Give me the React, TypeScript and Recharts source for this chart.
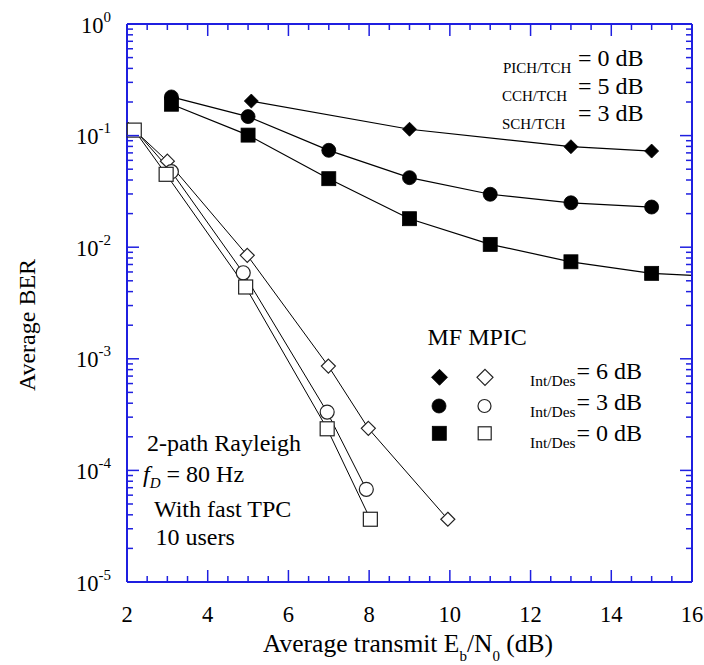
import React from 'react';
import { LineChart, Line, XAxis, YAxis } from 'recharts';

const FONT = '"Liberation Serif", "Times New Roman", Times, serif';
const BLUE = '#1f1fe0';

// ---- tick values ----
const xMajorTicks = [2, 4, 6, 8, 10, 12, 14, 16];
const xAllTicks = [2, 2.5, 3, 3.5, 4, 4.5, 5, 5.5, 6, 6.5, 7, 7.5, 8, 8.5, 9, 9.5, 10, 10.5, 11, 11.5, 12, 12.5, 13, 13.5, 14, 14.5, 15, 15.5, 16];
const yMajorTicks = [1e-5, 1e-4, 1e-3, 1e-2, 1e-1, 1];
const yMajorLabels = ['-5', '-4', '-3', '-2', '-1', '0'];
const yAllTicks = [
  1e-5, 2e-5, 3e-5, 4e-5, 5e-5, 6e-5, 7e-5, 8e-5, 9e-5,
  1e-4, 2e-4, 3e-4, 4e-4, 5e-4, 6e-4, 7e-4, 8e-4, 9e-4,
  1e-3, 2e-3, 3e-3, 4e-3, 5e-3, 6e-3, 7e-3, 8e-3, 9e-3,
  1e-2, 2e-2, 3e-2, 4e-2, 5e-2, 6e-2, 7e-2, 8e-2, 9e-2,
  1e-1, 2e-1, 3e-1, 4e-1, 5e-1, 6e-1, 7e-1, 8e-1, 9e-1,
  1,
];

// ---- series (Eb/N0 dB, BER) ----
const filledDiamond = [
  { x: 5.08, y: 0.204 }, { x: 9, y: 0.114 }, { x: 13, y: 0.0795 }, { x: 15, y: 0.0727 },
];
const filledCircle = [
  { x: 3.1, y: 0.222 }, { x: 5, y: 0.148 }, { x: 7, y: 0.0738 }, { x: 9, y: 0.042 },
  { x: 11, y: 0.0298 }, { x: 13, y: 0.025 }, { x: 15, y: 0.0229 },
];
const filledSquare = [
  { x: 3.1, y: 0.191 }, { x: 5, y: 0.101 }, { x: 7, y: 0.0411 }, { x: 9, y: 0.018 },
  { x: 11, y: 0.0106 }, { x: 13, y: 0.0074 }, { x: 15, y: 0.00583 }, { x: 16, y: 0.0056 },
];
const openDiamond = [
  { x: 2.18, y: 0.112 }, { x: 3.0, y: 0.059 }, { x: 4.98, y: 0.00846 }, { x: 6.99, y: 0.00086 },
  { x: 7.98, y: 0.000238 }, { x: 9.95, y: 0.0000365 },
];
const openCircle = [
  { x: 2.0, y: 0.135 }, { x: 3.1, y: 0.0475 }, { x: 4.88, y: 0.0059 }, { x: 6.96, y: 0.000333 },
  { x: 7.93, y: 0.0000677 },
];
const openSquare = [
  { x: 2.18, y: 0.112 }, { x: 2.97, y: 0.045 }, { x: 4.94, y: 0.0044 }, { x: 6.96, y: 0.000236 },
  { x: 8.03, y: 0.0000365 },
];

type Shape = 'diamond' | 'circle' | 'square';

const drawMarker = (shape: Shape, filled: boolean, cx: number, cy: number, s: number, key?: string) => {
  const fill = filled ? '#000' : '#fff';
  const stroke = filled ? '#000' : '#222';
  const sw = filled ? 0.8 : 1.2;
  if (shape === 'diamond') {
    const d = s * 0.5;
    return (
      <polygon key={key} points={`${cx},${cy - d} ${cx + d},${cy} ${cx},${cy + d} ${cx - d},${cy}`} fill={fill} stroke={stroke} strokeWidth={sw} />
    );
  }
  if (shape === 'circle') {
    return <circle key={key} cx={cx} cy={cy} r={s * 0.5} fill={fill} stroke={stroke} strokeWidth={sw} />;
  }
  return <rect key={key} x={cx - s / 2} y={cy - s / 2} width={s} height={s} fill={fill} stroke={stroke} strokeWidth={sw} />;
};

const makeDot = (shape: Shape, filled: boolean, size: number, hidden: number[]) => (props: any) => {
  const { cx, cy, index } = props;
  if (hidden.includes(index) || cx == null || cy == null) return <g key={`e-${index}`} />;
  return <g key={`d-${index}`}>{drawMarker(shape, filled, cx, cy, size)}</g>;
};

const isMajorY = (v: number) => yMajorTicks.some((m) => Math.abs(m - v) / m < 1e-9);

const XTickBottom = (props: any) => {
  const { x, y, payload } = props;
  const v = payload.value;
  const major = xMajorTicks.includes(v);
  return (
    <g>
      <line x1={x} x2={x} y1={y} y2={y - (major ? 12 : 6)} stroke={BLUE} strokeWidth={1.5} />
      {major && (
        <text x={x} y={y + 39.5} textAnchor="middle" fontFamily={FONT} fontSize={22.5} fill="#000">
          {v}
        </text>
      )}
    </g>
  );
};

const XTickTop = (props: any) => {
  const { x, y, payload } = props;
  const major = xMajorTicks.includes(payload.value);
  return <line x1={x} x2={x} y1={y} y2={y + (major ? 12 : 6)} stroke={BLUE} strokeWidth={1.5} />;
};

const YTickLeft = (props: any) => {
  const { x, y, payload } = props;
  const v = payload.value;
  const major = isMajorY(v);
  const idx = yMajorTicks.findIndex((m) => Math.abs(m - v) / m < 1e-9);
  return (
    <g>
      <line x1={x} x2={x + (major ? 12 : 6)} y1={y} y2={y} stroke={BLUE} strokeWidth={1.5} />
      {major && (
        <text x={x - 16} y={y + 8.5} textAnchor="end" fontFamily={FONT} fontSize={22.5} fill="#000">
          10
          <tspan dy={-11} fontSize={15}>{yMajorLabels[idx]}</tspan>
        </text>
      )}
    </g>
  );
};

const YTickRight = (props: any) => {
  const { x, y, payload } = props;
  const major = isMajorY(payload.value);
  return <line x1={x} x2={x - (major ? 12 : 6)} y1={y} y2={y} stroke={BLUE} strokeWidth={1.5} />;
};

const axisLine = { stroke: BLUE, strokeWidth: 2 };

export default function App() {
  const W = 704;
  const H = 665;
  return (
    <div style={{ position: 'absolute', left: 0, top: 0, width: W, height: H, background: '#fff' }}>
      <LineChart width={W} height={H} margin={{ top: 23, right: 11, bottom: 82, left: 126 }}>
        <XAxis
          xAxisId="top"
          orientation="top"
          type="number"
          dataKey="x"
          domain={[2, 16]}
          allowDataOverflow
          ticks={xAllTicks}
          interval={0}
          height={1}
          tickSize={0}
          tickMargin={0}
          tickLine={false}
          axisLine={axisLine}
          tick={<XTickTop />}
        />
        <XAxis
          type="number"
          dataKey="x"
          domain={[2, 16]}
          ticks={xAllTicks}
          interval={0}
          height={1}
          tickSize={0}
          tickMargin={0}
          tickLine={false}
          axisLine={axisLine}
          tick={<XTickBottom />}
        />
        <YAxis
          type="number"
          scale="log"
          domain={[1e-5, 1]}
          ticks={yAllTicks}
          interval={0}
          width={1}
          tickSize={0}
          tickMargin={0}
          tickLine={false}
          axisLine={axisLine}
          tick={<YTickLeft />}
        />
        <YAxis
          yAxisId="right"
          orientation="right"
          type="number"
          scale="log"
          domain={[1e-5, 1]}
          allowDataOverflow
          ticks={yAllTicks}
          interval={0}
          width={1}
          tickSize={0}
          tickMargin={0}
          tickLine={false}
          axisLine={axisLine}
          tick={<YTickRight />}
        />
        <Line data={filledDiamond} dataKey="y" type="linear" stroke="#000" strokeWidth={1.2} isAnimationActive={false} activeDot={false} dot={makeDot('diamond', true, 14, [])} />
        <Line data={filledCircle} dataKey="y" type="linear" stroke="#000" strokeWidth={1.2} isAnimationActive={false} activeDot={false} dot={makeDot('circle', true, 14, [])} />
        <Line data={filledSquare} dataKey="y" type="linear" stroke="#000" strokeWidth={1.2} isAnimationActive={false} activeDot={false} dot={makeDot('square', true, 14, [7])} />
        <Line data={openDiamond} dataKey="y" type="linear" stroke="#000" strokeWidth={1} isAnimationActive={false} activeDot={false} dot={makeDot('diamond', false, 14, [0])} />
        <Line data={openCircle} dataKey="y" type="linear" stroke="#000" strokeWidth={1} isAnimationActive={false} activeDot={false} dot={makeDot('circle', false, 14, [0])} />
        <Line data={openSquare} dataKey="y" type="linear" stroke="#000" strokeWidth={1} isAnimationActive={false} activeDot={false} dot={makeDot('square', false, 14, [])} />
      </LineChart>
      <svg width={W} height={H} style={{ position: 'absolute', left: 0, top: 0, pointerEvents: 'none' }} fontFamily={FONT} fill="#000">
        {/* axis titles */}
        <text x={263} y={652} fontSize={25.5}>
          Average transmit E<tspan fontSize={15} dy={9}>b</tspan>
          <tspan dy={-9}>/N</tspan>
          <tspan fontSize={15} dy={9}>0</tspan>
          <tspan dy={-9}> (dB)</tspan>
        </text>
        <text x={35} y={325} fontSize={24} textAnchor="middle" transform="rotate(-90 35 325)">
          Average BER
        </text>
        {/* top-right power ratios */}
        <text x={503} y={73} fontSize={15}>PICH/TCH</text>
        <text x={578} y={66} fontSize={24}>= 0 dB</text>
        <text x={502} y={101} fontSize={15}>CCH/TCH</text>
        <text x={578} y={94} fontSize={24}>= 5 dB</text>
        <text x={502} y={128.5} fontSize={15}>SCH/TCH</text>
        <text x={578} y={121} fontSize={24}>= 3 dB</text>
        {/* legend */}
        <text x={427.5} y={344.5} fontSize={24}>MF MPIC</text>
        {drawMarker('diamond', true, 439.5, 377.3, 16, 'l1')}
        {drawMarker('diamond', false, 485, 377.3, 16, 'l2')}
        {drawMarker('circle', true, 439, 406, 14, 'l3')}
        {drawMarker('circle', false, 484.5, 406, 13, 'l4')}
        {drawMarker('square', true, 439.3, 433.3, 14, 'l5')}
        {drawMarker('square', false, 484.7, 433.3, 13, 'l6')}
        <text x={530} y={385.5} fontSize={15.5}>Int/Des</text>
        <text x={576.5} y={379} fontSize={24}>= 6 dB</text>
        <text x={530} y={416.7} fontSize={15.5}>Int/Des</text>
        <text x={576.5} y={410} fontSize={24}>= 3 dB</text>
        <text x={530} y={447.7} fontSize={15.5}>Int/Des</text>
        <text x={576.5} y={441} fontSize={24}>= 0 dB</text>
        {/* conditions */}
        <text x={147} y={451} fontSize={24}>2-path Rayleigh</text>
        <text x={143} y={482} fontSize={24}>
          <tspan fontStyle="italic">f</tspan>
          <tspan fontStyle="italic" fontSize={15} dy={6}>D</tspan>
          <tspan dy={-6}> = 80 Hz</tspan>
        </text>
        <text x={154} y={516.5} fontSize={24}>With fast TPC</text>
        <text x={155.5} y={545} fontSize={24}>10 users</text>
      </svg>
    </div>
  );
}
